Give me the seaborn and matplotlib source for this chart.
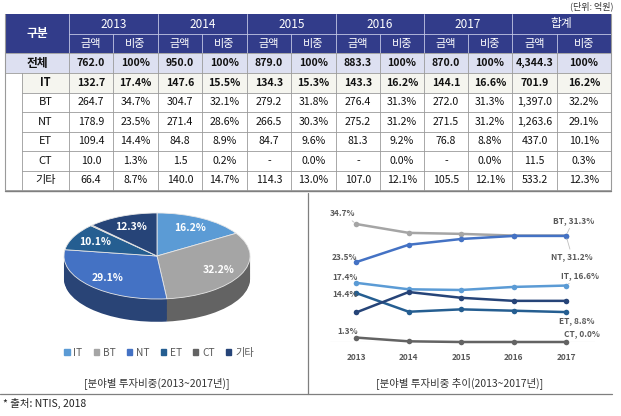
import numpy as np
import pandas as pd
import matplotlib
matplotlib.use("Agg")
import matplotlib.pyplot as plt
import seaborn as sns
from matplotlib.patches import Rectangle, Patch
from matplotlib.colors import to_rgb

# --- data ------------------------------------------------------------------
years = [2013, 2014, 2015, 2016, 2017]
groups = ["2013", "2014", "2015", "2016", "2017", "합계"]
fields = ["IT", "BT", "NT", "ET", "CT", "기타"]

total_amt = [762.0, 950.0, 879.0, 883.3, 870.0, 4344.3]
total_pct = [100, 100, 100, 100, 100, 100]

it_amt = [132.7, 147.6, 134.3, 143.3, 144.1, 701.9]
bt_amt = [264.7, 304.7, 279.2, 276.4, 272.0, 1397.0]
nt_amt = [178.9, 271.4, 266.5, 275.2, 271.5, 1263.6]
et_amt = [109.4, 84.8, 84.7, 81.3, 76.8, 437.0]
ct_amt = [10.0, 1.5, np.nan, np.nan, np.nan, 11.5]
etc_amt = [66.4, 140.0, 114.3, 107.0, 105.5, 533.2]

it_pct = [17.4, 15.5, 15.3, 16.2, 16.6, 16.2]
bt_pct = [34.7, 32.1, 31.8, 31.3, 31.3, 32.2]
nt_pct = [23.5, 28.6, 30.3, 31.2, 31.2, 29.1]
et_pct = [14.4, 8.9, 9.6, 9.2, 8.8, 10.1]
ct_pct = [1.3, 0.2, 0.0, 0.0, 0.0, 0.3]
etc_pct = [8.7, 14.7, 13.0, 12.1, 12.1, 12.3]

amounts = [it_amt, bt_amt, nt_amt, et_amt, ct_amt, etc_amt]
shares = [it_pct, bt_pct, nt_pct, et_pct, ct_pct, etc_pct]

field_colors = {"IT": "#5B9BD5", "BT": "#A5A5A5", "NT": "#4472C4",
                "ET": "#255E91", "CT": "#636363", "기타": "#264478"}

sns.set_theme(style="white")
plt.rcParams["font.family"] = ["Noto Sans CJK KR", "DejaVu Sans"]

fig = plt.figure(figsize=(6.21, 4.16), dpi=100)
ax = fig.add_axes([0, 0, 1, 1])
ax.set_xlim(0, 621)
ax.set_ylim(416, 0)
ax.axis("off")


def fmt_amt(v):
    if np.isnan(v):
        return "-"
    return f"{v:,.1f}"


# --- table -------------------------------------------------------------------
col_edges = [69, 113, 158, 202, 247, 291, 336, 380, 424, 468, 512, 557, 611]
row_edges = [14, 33.5, 53, 73, 92.5, 112, 131.5, 151, 170.5, 190]
x0, x_sub, x1 = 5, 22, 611
hdr_color = "#323C8A"
grid = "#9a9a9a"
val_size = 7.6

ax.add_patch(Rectangle((x0, 14), x1 - x0, 39, color=hdr_color, lw=0))
ax.add_patch(Rectangle((x0, 53), x1 - x0, 20, color="#DDE0F1", lw=0))
ax.add_patch(Rectangle((x_sub, 73), x1 - x_sub, 19.5, color="#F5F5EF", lw=0))

ax.text((x0 + 69) / 2, 33.5, "구분", color="white", ha="center", va="center",
        fontsize=8.5, weight="bold")
for i, g in enumerate(groups):
    xl, xr = col_edges[2 * i], col_edges[2 * i + 2]
    ax.text((xl + xr) / 2, 24, g, color="white", ha="center", va="center", fontsize=8.5)
    for j, sub in enumerate(["금액", "비중"]):
        cx = (col_edges[2 * i + j] + col_edges[2 * i + j + 1]) / 2
        ax.text(cx, 43.5, sub, color="white", ha="center", va="center", fontsize=8)

hl = "#c3c7e6"
ax.plot([69, x1], [33.5, 33.5], color=hl, lw=0.6)
for k, xe in enumerate(col_edges[:-1]):
    ax.plot([xe, xe], [14 if k % 2 == 0 else 33.5, 53], color=hl, lw=0.6)

# 전체 row
ax.text((x0 + 69) / 2, 63, "전체", ha="center", va="center", fontsize=8.5,
        weight="bold", color="#111")
for i in range(6):
    c1 = (col_edges[2 * i] + col_edges[2 * i + 1]) / 2
    c2 = (col_edges[2 * i + 1] + col_edges[2 * i + 2]) / 2
    ax.text(c1, 63, fmt_amt(total_amt[i]), ha="center", va="center",
            fontsize=val_size, weight="bold", color="#111")
    ax.text(c2, 63, f"{total_pct[i]:.0f}%", ha="center", va="center",
            fontsize=val_size, weight="bold", color="#111")

for r, f in enumerate(fields):
    cy = (row_edges[r + 3] + row_edges[r + 4]) / 2
    wt = "bold" if f == "IT" else "normal"
    ax.text((x_sub + 69) / 2, cy, f, ha="center", va="center", fontsize=8,
            weight=wt, color="#111")
    for i in range(6):
        c1 = (col_edges[2 * i] + col_edges[2 * i + 1]) / 2
        c2 = (col_edges[2 * i + 1] + col_edges[2 * i + 2]) / 2
        ax.text(c1, cy, fmt_amt(amounts[r][i]), ha="center", va="center",
                fontsize=val_size, weight=wt, color="#111")
        ax.text(c2, cy, f"{shares[r][i]:.1f}%", ha="center", va="center",
                fontsize=val_size, weight=wt, color="#111")

for k, ye in enumerate(row_edges[2:]):
    start = x0 if k in (0, 1, len(row_edges) - 3) else x_sub
    ax.plot([start, x1], [ye, ye], color=grid, lw=0.6)
for xe in col_edges:
    ax.plot([xe, xe], [53, 190], color=grid, lw=0.6)
ax.plot([x_sub, x_sub], [73, 190], color=grid, lw=0.6)
ax.plot([x0, x0], [14, 190], color=grid, lw=0.8)
ax.plot([x1, x1], [14, 190], color=grid, lw=0.8)
ax.plot([x0, x1], [190.5, 190.5], color="#7f7f7f", lw=1.0)

ax.text(614, 6, "(단위: 억원)", ha="right", va="center", fontsize=6.5, color="#333")

# panel frame and captions
ax.plot([0, 612], [394, 394], color="#7f7f7f", lw=0.9)
ax.plot([308, 308], [193, 394], color="#7f7f7f", lw=0.9)
ax.text(157, 383, "[분야별 투자비중(2013~2017년)]", ha="center", va="center",
        fontsize=7.5, color="#333")
ax.text(460, 383, "[분야별 투자비중 추이(2013~2017년)]", ha="center", va="center",
        fontsize=7.5, color="#333")
ax.text(3, 403, "* 출처: NTIS, 2018", ha="left", va="center", fontsize=7.5, color="#222")

# --- 3D-looking pie ----------------------------------------------------------
pie_share = [s[-1] for s in shares]
top_cols = [field_colors[f] for f in fields]
side_cols = [tuple(c * 0.6 for c in to_rgb(field_colors[f])) for f in fields]

pax = fig.add_axes([57 / 621, (416 - 340) / 416, 200 / 621, 140 / 416])
depth = 0.53
for d in np.linspace(depth, 0.02, 26):
    pax.pie(pie_share, colors=side_cols, startangle=90, counterclock=False,
            center=(0, -d), wedgeprops=dict(linewidth=0))
labels = [f"{v:.1f}%" if v >= 1 else "" for v in pie_share]
wedges, texts = pax.pie(pie_share, colors=top_cols, startangle=90, counterclock=False,
                        labels=labels, labeldistance=0.74,
                        wedgeprops=dict(edgecolor="#e8e8e8", linewidth=0.6),
                        textprops=dict(color="white", weight="bold", fontsize=7.5))
for t in texts:
    t.set_ha("center")
    t.set_va("center")
pax.set_aspect("auto")
pax.set_xlim(-1.075, 1.075)
pax.set_ylim(-1.953, 1.302)
pax.axis("off")

fig.legend(handles=[Patch(color=c) for c in top_cols], labels=fields, loc="center",
           bbox_to_anchor=(159 / 621, 1 - 353 / 416), ncol=6, frameon=False,
           fontsize=7.3, handlelength=0.55, handleheight=0.55, handletextpad=0.35,
           columnspacing=1.1, labelcolor="#595959")

# --- trend lines -------------------------------------------------------------
df = pd.DataFrame({
    "field": np.repeat(fields, len(years)),
    "year": years * len(fields),
    "share": [v for s in shares for v in s[:5]],
})
lax = fig.add_axes([330 / 621, (416 - 342) / 416, 265 / 621, 136 / 416])
sns.lineplot(data=df, x="year", y="share", hue="field", hue_order=fields,
             palette=field_colors, marker="o", markersize=4, markeredgewidth=0,
             linewidth=1.8, legend=False, ax=lax)
for ln in lax.lines:
    ln.set_clip_on(False)
lax.axhline(0, color="#d9d9d9", lw=0.8, zorder=0)
lax.set_xlim(2012.5, 2017.55)
lax.set_ylim(0, 40)
lax.set_xticks(years)
lax.set_xticklabels([str(y) for y in years], fontsize=6, weight="bold", color="#595959")
lax.tick_params(axis="x", length=0, pad=8)
lax.set_yticks([])
lax.set_xlabel("")
lax.set_ylabel("")
lax.patch.set_alpha(0)
for sp in lax.spines.values():
    sp.set_visible(False)

lbl = dict(fontsize=6, weight="bold", color="#595959", ha="center", va="center",
           textcoords="offset pixels", annotation_clip=False)
leader = dict(arrowstyle="-", color="#bfbfbf", lw=0.6, shrinkA=0, shrinkB=2)
left_off = {"BT": (-14, 11), "NT": (-12, 5), "IT": (-11, 5), "ET": (-11, -1), "CT": (-9, 6)}
right_off = {"BT": (7, 15), "NT": (6, -21), "IT": (14, 10), "ET": (11, -9), "CT": (16, 8)}
for f in ["BT", "NT", "IT", "ET", "CT"]:
    s = shares[fields.index(f)]
    lax.annotate(f"{s[0]:.1f}%", xy=(years[0], s[0]), xytext=left_off[f],
                 arrowprops=leader if f == "BT" else None, **lbl)
    lax.annotate(f"{f}, {s[4]:.1f}%", xy=(years[-1], s[4]), xytext=right_off[f],
                 arrowprops=leader if f in ("BT", "NT", "IT") else None, **lbl)

fig.savefig("out.png", dpi=100)
